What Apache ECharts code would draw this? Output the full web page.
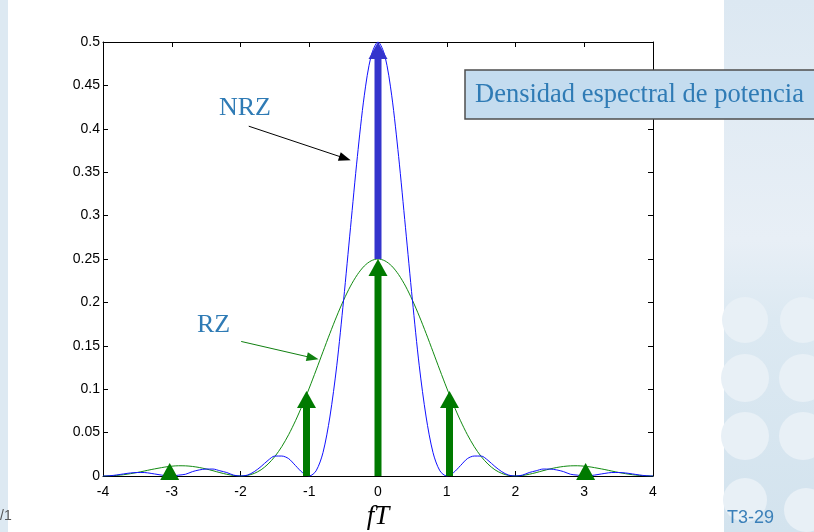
<!DOCTYPE html>
<html>
<head>
<meta charset="utf-8">
<title>Densidad espectral de potencia</title>
<script src="https://cdn.jsdelivr.net/npm/echarts@6.0.0/dist/echarts.min.js"></script>
<style>
  html, body { margin: 0; padding: 0; background: #ffffff; }
  #main { width: 814px; height: 532px; }
</style>
</head>
<body>
<div id="main"></div>
<script>
// frequency axis (fT), step 0.1
const fT = [
  -4.0, -3.9, -3.8, -3.7, -3.6, -3.5, -3.4, -3.3, -3.2, -3.1,
  -3.0, -2.9, -2.8, -2.7, -2.6, -2.5, -2.4, -2.3, -2.2, -2.1,
  -2.0, -1.9, -1.8, -1.7, -1.6, -1.5, -1.4, -1.3, -1.2, -1.1,
  -1.0, -0.9, -0.8, -0.7, -0.6, -0.5, -0.4, -0.3, -0.2, -0.1,
  0.0,
  0.1, 0.2, 0.3, 0.4, 0.5, 0.6, 0.7, 0.8, 0.9, 1.0,
  1.1, 1.2, 1.3, 1.4, 1.5, 1.6, 1.7, 1.8, 1.9, 2.0,
  2.1, 2.2, 2.3, 2.4, 2.5, 2.6, 2.7, 2.8, 2.9, 3.0,
  3.1, 3.2, 3.3, 3.4, 3.5, 3.6, 3.7, 3.8, 3.9, 4.0
];

// NRZ spectrum (blue)
const nrz = [
  0, 0.0003, 0.0012, 0.0024, 0.0035, 0.004, 0.004, 0.003, 0.0017, 0.0005,
  0, 0.001, 0.002, 0.005, 0.007, 0.008, 0.008, 0.006, 0.004, 0.001,
  0, 0.001, 0.005, 0.011, 0.018, 0.023, 0.023, 0.020, 0.012, 0.004,
  0, 0.006, 0.027, 0.068, 0.127, 0.203, 0.286, 0.368, 0.438, 0.484,
  0.5,
  0.484, 0.438, 0.368, 0.286, 0.203, 0.127, 0.068, 0.027, 0.006, 0,
  0.004, 0.012, 0.020, 0.023, 0.023, 0.018, 0.011, 0.005, 0.001, 0,
  0.001, 0.004, 0.006, 0.008, 0.008, 0.007, 0.005, 0.002, 0.001, 0,
  0.0005, 0.0017, 0.003, 0.004, 0.004, 0.0035, 0.0024, 0.0012, 0.0003, 0
];

// RZ spectrum (green)
const rz = [
  0, 0.0002, 0.0007, 0.0015, 0.0027, 0.0041, 0.0057, 0.0074, 0.0089, 0.0103,
  0.0113, 0.0118, 0.0117, 0.0110, 0.0098, 0.0081, 0.0061, 0.0039, 0.0020, 0.0006,
  0, 0.0007, 0.0030, 0.0072, 0.0137, 0.0225, 0.0338, 0.0476, 0.0637, 0.0817,
  0.1013, 0.1220, 0.1432, 0.1642, 0.1842, 0.2026, 0.2188, 0.2320, 0.2419, 0.2479,
  0.25,
  0.2479, 0.2419, 0.2320, 0.2188, 0.2026, 0.1842, 0.1642, 0.1432, 0.1220, 0.1013,
  0.0817, 0.0637, 0.0476, 0.0338, 0.0225, 0.0137, 0.0072, 0.0030, 0.0007, 0,
  0.0006, 0.0020, 0.0039, 0.0061, 0.0081, 0.0098, 0.0110, 0.0117, 0.0118, 0.0113,
  0.0103, 0.0089, 0.0074, 0.0057, 0.0041, 0.0027, 0.0015, 0.0007, 0.0002, 0
];

// spectral lines (deltas)
const rzDeltaX = [-3.03, -1.04, 0, 1.04, 3.02];
const rzDeltaTop = [0.015, 0.098, 0.25, 0.098, 0.015];
const nrzDeltaX = [0];
const nrzDeltaBase = [0.25];
const nrzDeltaTop = [0.5];

const chart = echarts.init(document.getElementById("main"));

function pairs(xs, ys) {
  return xs.map((x, i) => [x, ys[i]]);
}

function renderArrow(params, api) {
  const base = api.coord([api.value(0), api.value(1)]);
  const tip = api.coord([api.value(0), api.value(2)]);
  const headH = 17;
  const headW = 19;
  const shaftW = 7;
  const color = api.visual("color");
  const children = [];
  const headBase = tip[1] + headH;
  if (headBase < base[1]) {
    children.push({
      type: "rect",
      shape: { x: base[0] - shaftW / 2, y: headBase - 1, width: shaftW, height: base[1] - headBase + 1 },
      style: { fill: color },
    });
  }
  children.push({
    type: "polygon",
    shape: {
      points: [
        [tip[0] - headW / 2, headBase],
        [tip[0] + headW / 2, headBase],
        [tip[0], tip[1]],
      ],
    },
    style: { fill: color },
  });
  return { type: "group", children: children };
}

const axisFont = { fontFamily: "Liberation Sans, Arial", fontSize: 14, color: "#000" };
const serif = "Liberation Serif, Times New Roman, serif";

// pale circles of the slide template (right band)
const deco = [
  [745, 320, 23], [803, 320, 23],
  [745, 378, 24], [803, 378, 24],
  [745, 436, 24], [803, 436, 24],
  [745, 500, 22], [806, 510, 22],
];

const options = {
  animation: false,
  backgroundColor: "#ffffff",
  grid: { left: 103, right: 161, top: 42, bottom: 56, outerBoundsMode: "none", containLabel: false },
  xAxis: [
    {
      type: "value",
      min: -4,
      max: 4,
      interval: 1,
      name: "fT",
      nameLocation: "middle",
      nameGap: 27,
      nameTextStyle: { fontFamily: serif, fontStyle: "italic", fontSize: 27, color: "#000" },
      axisLine: { onZero: false, lineStyle: { color: "#000", width: 1 } },
      axisTick: { inside: true, length: 5, lineStyle: { color: "#000" } },
      axisLabel: Object.assign({ margin: 9 }, axisFont),
      splitLine: { show: false },
    },
    {
      type: "value",
      position: "top",
      min: -4,
      max: 4,
      interval: 1,
      axisLine: { onZero: false, lineStyle: { color: "#000", width: 1 } },
      axisTick: { inside: true, length: 5, lineStyle: { color: "#000" } },
      axisLabel: { show: false },
      splitLine: { show: false },
    },
  ],
  yAxis: [
    {
      type: "value",
      min: 0,
      max: 0.5,
      interval: 0.05,
      axisLine: { show: true, onZero: false, lineStyle: { color: "#000", width: 1 } },
      axisTick: { show: true, inside: true, length: 5, lineStyle: { color: "#000" } },
      axisLabel: Object.assign({ margin: 3 }, axisFont),
      splitLine: { show: false },
    },
    {
      type: "value",
      position: "right",
      min: 0,
      max: 0.5,
      interval: 0.05,
      axisLine: { show: true, onZero: false, lineStyle: { color: "#000", width: 1 } },
      axisTick: { show: true, inside: true, length: 5, lineStyle: { color: "#000" } },
      axisLabel: { show: false },
      splitLine: { show: false },
    },
  ],
  series: [
    {
      name: "RZ",
      type: "line",
      data: pairs(fT, rz),
      smooth: 0.3,
      showSymbol: false,
      lineStyle: { color: "#118a11", width: 1 },
      z: 3,
      markLine: {
        silent: true,
        symbol: ["none", "triangle"],
        symbolSize: [9, 12],
        label: { show: false },
        lineStyle: { color: "#108010", width: 1, type: "solid" },
        data: [[{ coord: [-1.99, 0.155] }, { coord: [-0.95, 0.136] }]],
      },
    },
    {
      name: "NRZ",
      type: "line",
      data: pairs(fT, nrz),
      smooth: 0.3,
      showSymbol: false,
      lineStyle: { color: "#1010ff", width: 1 },
      z: 4,
      markLine: {
        silent: true,
        symbol: ["none", "triangle"],
        symbolSize: [9, 12],
        label: { show: false },
        lineStyle: { color: "#000", width: 1, type: "solid" },
        data: [[{ coord: [-1.88, 0.403] }, { coord: [-0.48, 0.366] }]],
      },
    },
    {
      name: "NRZ delta",
      type: "custom",
      renderItem: renderArrow,
      clip: false,
      itemStyle: { color: "#3434cc" },
      data: nrzDeltaX.map((x, i) => [x, nrzDeltaBase[i], nrzDeltaTop[i]]),
      z: 5,
    },
    {
      name: "RZ delta",
      type: "custom",
      renderItem: renderArrow,
      clip: false,
      itemStyle: { color: "#007a00" },
      data: rzDeltaX.map((x, i) => [x, 0, rzDeltaTop[i]]),
      z: 6,
    },
  ],
  graphic: [
    // slide background decorations
    { type: "rect", z: -10, shape: { x: 0, y: 0, width: 8, height: 532 },
      style: { fill: "#dde9f2" } },
    { type: "rect", z: -10, shape: { x: 724, y: 0, width: 90, height: 532 },
      style: { fill: new echarts.graphic.LinearGradient(0, 0, 0, 1, [
        { offset: 0, color: "#dce8f2" },
        { offset: 0.45, color: "#e8eff6" },
        { offset: 0.6, color: "#dce9f2" },
        { offset: 1, color: "#d3e3ee" }]) } },
    ...deco.map((c) => ({
      type: "circle", z: -8, shape: { cx: c[0], cy: c[1], r: c[2] },
      style: { fill: "#e8f0f6" },
    })),
    // title box
    { type: "rect", z: 20, shape: { x: 465, y: 70, width: 360, height: 49 },
      style: { fill: "#c4dcef", stroke: "#4d4d4d", lineWidth: 1.5 } },
    { type: "text", z: 21, x: 475, y: 95,
      style: { text: "Densidad espectral de potencia", font: "26.5px " + serif,
        fill: "#2f7bb5", verticalAlign: "middle" } },
    // curve labels
    { type: "text", z: 21, x: 219, y: 108,
      style: { text: "NRZ", font: "26px " + serif, fill: "#2f7bb5", verticalAlign: "middle" } },
    { type: "text", z: 21, x: 197, y: 325,
      style: { text: "RZ", font: "26px " + serif, fill: "#2f7bb5", verticalAlign: "middle" } },
    // slide footer
    { type: "text", z: 21, x: 0, y: 516,
      style: { text: "/1", font: "14px Liberation Sans, Arial", fill: "#555", verticalAlign: "middle" } },
    { type: "text", z: 21, x: 727, y: 518,
      style: { text: "T3-29", font: "18px Liberation Sans, Arial", fill: "#3b80b9", verticalAlign: "middle" } },
  ],
};

chart.setOption(options);
</script>
</body>
</html>
